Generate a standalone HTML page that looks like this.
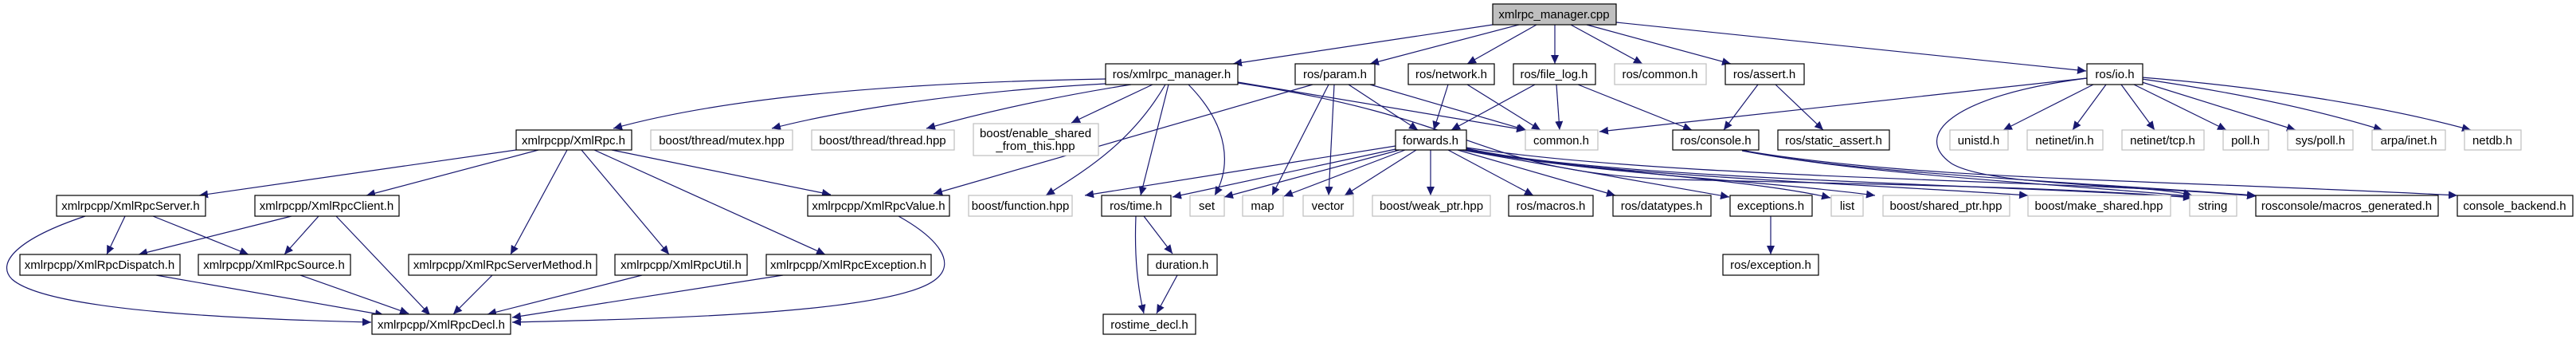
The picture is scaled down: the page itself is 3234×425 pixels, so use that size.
<!DOCTYPE html>
<html><head><meta charset="utf-8"><style>
html,body{margin:0;padding:0;background:#fff;}
svg{display:block}
text{font-family:"Liberation Sans",sans-serif;font-size:15px;fill:#000;text-anchor:middle}
.n{fill:#fff;stroke:#000;stroke-width:1.2}
.g{fill:#fff;stroke:#bfbfbf;stroke-width:1.2}
.e{fill:none;stroke:#191970;stroke-width:1.2}
</style></head><body>
<svg width="3234" height="425" viewBox="0 0 3234 425" xmlns="http://www.w3.org/2000/svg">
<defs><marker id="a" markerUnits="userSpaceOnUse" markerWidth="12" markerHeight="10" refX="11" refY="5" orient="auto"><path d="M0,0 L11,5 L0,10 z" fill="#191970"/></marker></defs>
<g class="e" marker-end="url(#a)">
<path d="M1874,31 L1548,80"/><path d="M1907,31 L1720,80"/><path d="M1929,31 L1842,80"/><path d="M1952,31 L1952,80"/>
<path d="M1972,31 L2062,80"/><path d="M1992,31 L2173,80"/><path d="M2029,28 L2619,89"/>
<path d="M1388,99 C1100,104 900,125 770,161"/><path d="M1388,105 C1200,115 1050,140 969,161"/><path d="M1420,106 C1300,125 1220,145 1163,161"/>
<path d="M1447,106 L1345,154"/><path d="M1648,106 L1172,243"/><path d="M768,188 L1043,244"/>
<path d="M1463,106 C1420,180 1360,215 1313,245"/><path d="M1467,106 L1432,245"/><path d="M1492,106 C1545,160 1545,210 1525,245"/>
<path d="M1554,103 L1915,163"/><path d="M1554,104 C1860,150 1850,215 2100,225 C2400,232 2600,235 2752,248"/>
<path d="M1693,106 L1780,163"/><path d="M1720,106 L1916,163"/><path d="M1668,106 L1597,245"/><path d="M1675,106 L1668,245"/>
<path d="M1818,106 L1800,163"/><path d="M1842,106 L1934,163"/><path d="M1927,106 L1822,163"/><path d="M1954,106 L1958,163"/>
<path d="M1981,106 L2124,163"/><path d="M2207,106 L2164,163"/><path d="M2229,106 L2289,163"/>
<path d="M2620,98 L2008,165"/><path d="M2628,106 L2515,163"/><path d="M2644,106 L2602,163"/><path d="M2663,106 L2705,163"/>
<path d="M2679,106 L2795,163"/><path d="M2689,103 L2882,163"/><path d="M2689,99 C2800,115 2900,135 2991,163"/><path d="M2689,97 C2850,110 3000,135 3102,163"/>
<path d="M2620,98 C2450,120 2400,170 2450,205 C2500,235 2700,230 2752,245"/>
<path d="M2187,188 C2300,215 2600,228 2832,245"/><path d="M2190,189 C2400,225 2700,225 3085,245"/><path d="M2187,189 C2350,220 2600,232 2752,246"/>
<path d="M1752,183 L1362,245"/><path d="M1752,187 L1472,247"/><path d="M1757,188 L1537,247"/><path d="M1764,188 L1612,246"/>
<path d="M1778,188 L1688,245"/><path d="M1796,188 L1796,245"/><path d="M1818,188 L1925,245"/><path d="M1830,188 L2028,245"/>
<path d="M1835,188 L2171,247"/><path d="M1838,188 C2000,215 2200,225 2298,248"/><path d="M1840,188 C2000,218 2200,225 2354,245"/>
<path d="M1841,187 C2000,220 2300,228 2546,245"/><path d="M1841,186 C2000,222 2400,228 2752,247"/><path d="M1841,185 C2100,225 2600,225 2832,246"/>
<path d="M157,271 L134,319"/><path d="M192,271 L312,319"/><path d="M107,271 C20,300 -5,330 15,350 C60,390 300,400 466,404"/>
<path d="M366,271 L174,319"/><path d="M400,271 L357,319"/><path d="M422,271 L540,395"/>
<path d="M648,188 L250,245"/><path d="M676,188 L460,245"/><path d="M712,188 L641,319"/><path d="M730,188 L840,319"/><path d="M746,188 L1036,319"/>
<path d="M196,345 L482,395"/><path d="M377,345 L513,393"/><path d="M618,345 L569,394"/><path d="M806,345 L612,394"/><path d="M983,345 L643,398"/>
<path d="M1128,271 C1180,300 1200,330 1175,350 C1120,395 800,400 643,404"/>
<path d="M1436,271 L1472,318"/><path d="M1426,271 C1424,320 1428,360 1436,393"/><path d="M1478,345 L1452,393"/>
<path d="M2223,271 L2223,319"/>
</g>
<rect x="1874" y="5" width="155" height="26" fill="#bfbfbf" stroke="#000" stroke-width="1.2"/><text x="1951" y="23">xmlrpc_manager.cpp</text>
<rect class="n" x="1388" y="80" width="166" height="26"/><text x="1471" y="98">ros/xmlrpc_manager.h</text>
<rect class="n" x="1626" y="80" width="100" height="26"/><text x="1676" y="98">ros/param.h</text>
<rect class="n" x="1768" y="80" width="108" height="26"/><text x="1822" y="98">ros/network.h</text>
<rect class="n" x="1900" y="80" width="103" height="26"/><text x="1951" y="98">ros/file_log.h</text>
<rect class="g" x="2027" y="80" width="115" height="26"/><text x="2084" y="98">ros/common.h</text>
<rect class="n" x="2166" y="80" width="99" height="26"/><text x="2215" y="98">ros/assert.h</text>
<rect class="n" x="2620" y="80" width="70" height="26"/><text x="2655" y="98">ros/io.h</text>
<rect class="n" x="648" y="163" width="145" height="25"/><text x="720" y="181">xmlrpcpp/XmlRpc.h</text>
<rect class="g" x="817" y="163" width="178" height="25"/><text x="906" y="181">boost/thread/mutex.hpp</text>
<rect class="g" x="1019" y="163" width="179" height="25"/><text x="1108" y="181">boost/thread/thread.hpp</text>
<rect class="g" x="1222" y="155" width="157" height="40"/><text x="1300" y="172">boost/enable_shared</text><text x="1300" y="188">_from_this.hpp</text>
<rect class="n" x="1752" y="163" width="89" height="25"/><text x="1796" y="181">forwards.h</text>
<rect class="g" x="1915" y="163" width="91" height="25"/><text x="1960" y="181">common.h</text>
<rect class="n" x="2100" y="163" width="108" height="25"/><text x="2154" y="181">ros/console.h</text>
<rect class="n" x="2232" y="163" width="140" height="25"/><text x="2302" y="181">ros/static_assert.h</text>
<rect class="g" x="2448" y="163" width="73" height="25"/><text x="2484" y="181">unistd.h</text>
<rect class="g" x="2545" y="163" width="95" height="25"/><text x="2592" y="181">netinet/in.h</text>
<rect class="g" x="2664" y="163" width="103" height="25"/><text x="2715" y="181">netinet/tcp.h</text>
<rect class="g" x="2791" y="163" width="57" height="25"/><text x="2819" y="181">poll.h</text>
<rect class="g" x="2872" y="163" width="82" height="25"/><text x="2913" y="181">sys/poll.h</text>
<rect class="g" x="2978" y="163" width="92" height="25"/><text x="3024" y="181">arpa/inet.h</text>
<rect class="g" x="3094" y="163" width="71" height="25"/><text x="3129" y="181">netdb.h</text>
<rect class="n" x="71" y="245" width="187" height="26"/><text x="164" y="263">xmlrpcpp/XmlRpcServer.h</text>
<rect class="n" x="320" y="245" width="181" height="26"/><text x="410" y="263">xmlrpcpp/XmlRpcClient.h</text>
<rect class="n" x="1014" y="245" width="178" height="26"/><text x="1103" y="263">xmlrpcpp/XmlRpcValue.h</text>
<rect class="g" x="1216" y="245" width="130" height="26"/><text x="1281" y="263">boost/function.hpp</text>
<rect class="n" x="1383" y="245" width="87" height="26"/><text x="1426" y="263">ros/time.h</text>
<rect class="g" x="1494" y="245" width="43" height="26"/><text x="1515" y="263">set</text>
<rect class="g" x="1560" y="245" width="51" height="26"/><text x="1585" y="263">map</text>
<rect class="g" x="1636" y="245" width="63" height="26"/><text x="1667" y="263">vector</text>
<rect class="g" x="1723" y="245" width="148" height="26"/><text x="1797" y="263">boost/weak_ptr.hpp</text>
<rect class="n" x="1894" y="245" width="106" height="26"/><text x="1947" y="263">ros/macros.h</text>
<rect class="n" x="2025" y="245" width="123" height="26"/><text x="2086" y="263">ros/datatypes.h</text>
<rect class="n" x="2172" y="245" width="103" height="26"/><text x="2223" y="263">exceptions.h</text>
<rect class="g" x="2299" y="245" width="40" height="26"/><text x="2319" y="263">list</text>
<rect class="g" x="2364" y="245" width="159" height="26"/><text x="2443" y="263">boost/shared_ptr.hpp</text>
<rect class="g" x="2546" y="245" width="179" height="26"/><text x="2635" y="263">boost/make_shared.hpp</text>
<rect class="g" x="2749" y="245" width="59" height="26"/><text x="2778" y="263">string</text>
<rect class="n" x="2832" y="245" width="229" height="26"/><text x="2946" y="263">rosconsole/macros_generated.h</text>
<rect class="n" x="3085" y="245" width="145" height="26"/><text x="3157" y="263">console_backend.h</text>
<rect class="n" x="25" y="319" width="201" height="26"/><text x="125" y="337">xmlrpcpp/XmlRpcDispatch.h</text>
<rect class="n" x="249" y="319" width="191" height="26"/><text x="344" y="337">xmlrpcpp/XmlRpcSource.h</text>
<rect class="n" x="513" y="319" width="236" height="26"/><text x="631" y="337">xmlrpcpp/XmlRpcServerMethod.h</text>
<rect class="n" x="772" y="319" width="166" height="26"/><text x="855" y="337">xmlrpcpp/XmlRpcUtil.h</text>
<rect class="n" x="962" y="319" width="207" height="26"/><text x="1065" y="337">xmlrpcpp/XmlRpcException.h</text>
<rect class="n" x="1441" y="319" width="87" height="26"/><text x="1484" y="337">duration.h</text>
<rect class="n" x="2163" y="319" width="120" height="26"/><text x="2223" y="337">ros/exception.h</text>
<rect class="n" x="467" y="394" width="174" height="25"/><text x="554" y="412">xmlrpcpp/XmlRpcDecl.h</text>
<rect class="n" x="1385" y="394" width="116" height="25"/><text x="1443" y="412">rostime_decl.h</text>
</svg>
</body></html>
